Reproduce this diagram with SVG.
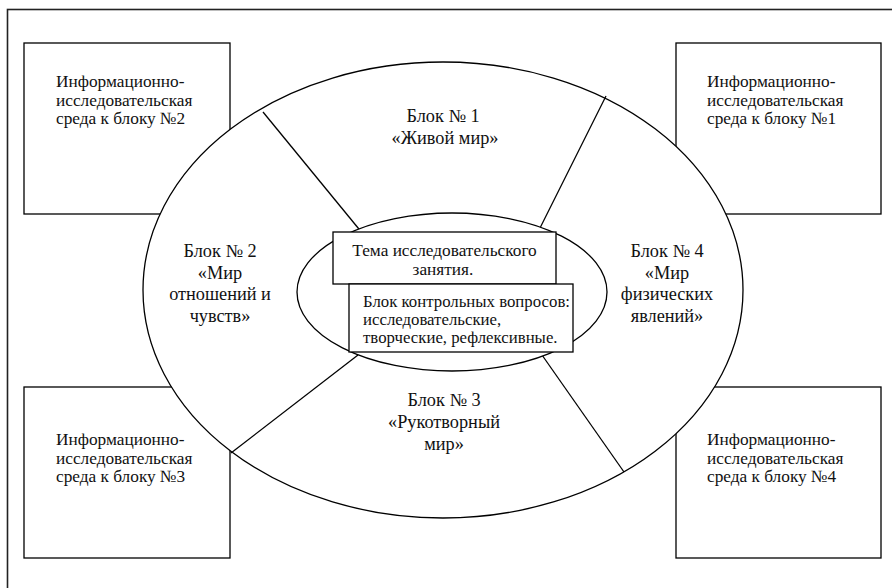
<svg xmlns="http://www.w3.org/2000/svg" width="892" height="588" viewBox="0 0 892 588">
<style>
.ln{fill:none;stroke:#000;stroke-width:1.3}
.wf{fill:#fff;stroke:#000;stroke-width:1.3}
</style>
<rect x="7.5" y="9.5" width="900" height="600" fill="#fff" stroke="#222" stroke-width="1.6"/>
<g id="env2"><rect class="wf" x="24" y="43" width="206" height="171"/>
<text font-family="Liberation Serif" font-size="17.3" fill="#111" x="56" y="87">Информационно-</text><text font-family="Liberation Serif" font-size="17.3" fill="#111" x="56" y="105.5">исследовательская</text><text font-family="Liberation Serif" font-size="17.3" fill="#111" x="56" y="124">среда к блоку №2</text></g>
<g id="env1"><rect class="wf" x="676" y="43" width="205" height="171"/>
<text font-family="Liberation Serif" font-size="17.3" fill="#111" x="707" y="87">Информационно-</text><text font-family="Liberation Serif" font-size="17.3" fill="#111" x="707" y="105.5">исследовательская</text><text font-family="Liberation Serif" font-size="17.3" fill="#111" x="707" y="124">среда к блоку №1</text></g>
<g id="env3"><rect class="wf" x="24" y="387" width="206" height="171"/>
<text font-family="Liberation Serif" font-size="17.3" fill="#111" x="56" y="445">Информационно-</text><text font-family="Liberation Serif" font-size="17.3" fill="#111" x="56" y="463.5">исследовательская</text><text font-family="Liberation Serif" font-size="17.3" fill="#111" x="56" y="482">среда к блоку №3</text></g>
<g id="env4"><rect class="wf" x="676" y="387" width="205" height="171"/>
<text font-family="Liberation Serif" font-size="17.3" fill="#111" x="707" y="445">Информационно-</text><text font-family="Liberation Serif" font-size="17.3" fill="#111" x="707" y="463.5">исследовательская</text><text font-family="Liberation Serif" font-size="17.3" fill="#111" x="707" y="482">среда к блоку №4</text></g>
<g id="outer"><ellipse class="wf" cx="443" cy="290" rx="300" ry="228"/></g>
<g id="connectors">
<line class="ln" x1="263" y1="112" x2="363" y2="234"/>
<line class="ln" x1="606" y1="96" x2="537" y2="234"/>
<line class="ln" x1="231" y1="453" x2="358" y2="355"/>
<line class="ln" x1="624" y1="472" x2="542" y2="355"/>
</g>
<g id="block1"><text font-family="Liberation Serif" font-size="18.3" fill="#111" text-anchor="middle" x="443" y="122">Блок № 1</text><text font-family="Liberation Serif" font-size="18.3" fill="#111" text-anchor="middle" x="445" y="144">«Живой мир»</text></g>
<g id="block2"><text font-family="Liberation Serif" font-size="18.3" fill="#111" text-anchor="middle" x="220" y="257">Блок № 2</text><text font-family="Liberation Serif" font-size="18.3" fill="#111" text-anchor="middle" x="220" y="278.5">«Мир</text><text font-family="Liberation Serif" font-size="18.3" fill="#111" text-anchor="middle" x="220" y="300">отношений и</text><text font-family="Liberation Serif" font-size="18.3" fill="#111" text-anchor="middle" x="220" y="322">чувств»</text></g>
<g id="block4"><text font-family="Liberation Serif" font-size="18.3" fill="#111" text-anchor="middle" x="667" y="257">Блок № 4</text><text font-family="Liberation Serif" font-size="18.3" fill="#111" text-anchor="middle" x="667" y="278.5">«Мир</text><text font-family="Liberation Serif" font-size="18.3" fill="#111" text-anchor="middle" x="667" y="300">физических</text><text font-family="Liberation Serif" font-size="18.3" fill="#111" text-anchor="middle" x="667" y="322">явлений»</text></g>
<g id="block3"><text font-family="Liberation Serif" font-size="18.3" fill="#111" text-anchor="middle" x="444" y="406">Блок № 3</text><text font-family="Liberation Serif" font-size="18.3" fill="#111" text-anchor="middle" x="444" y="428">«Рукотворный</text><text font-family="Liberation Serif" font-size="18.3" fill="#111" text-anchor="middle" x="444" y="450">мир»</text></g>
<g id="inner"><ellipse class="wf" cx="452" cy="292" rx="155" ry="79"/></g>
<g id="tema"><rect class="wf" x="333" y="232" width="223" height="52"/>
<text font-family="Liberation Serif" font-size="17.3" fill="#111" text-anchor="middle" x="444.5" y="256">Тема исследовательского</text><text font-family="Liberation Serif" font-size="17.3" fill="#111" text-anchor="middle" x="443" y="275">занятия.</text></g>
<g id="questions"><rect class="wf" x="349" y="284" width="224" height="68"/>
<text font-family="Liberation Serif" font-size="16.8" fill="#111" x="363" y="307">Блок контрольных вопросов:</text><text font-family="Liberation Serif" font-size="16.8" fill="#111" x="363" y="325">исследовательские,</text><text font-family="Liberation Serif" font-size="16.8" fill="#111" x="363" y="342.5">творческие, рефлексивные.</text></g>
</svg>
